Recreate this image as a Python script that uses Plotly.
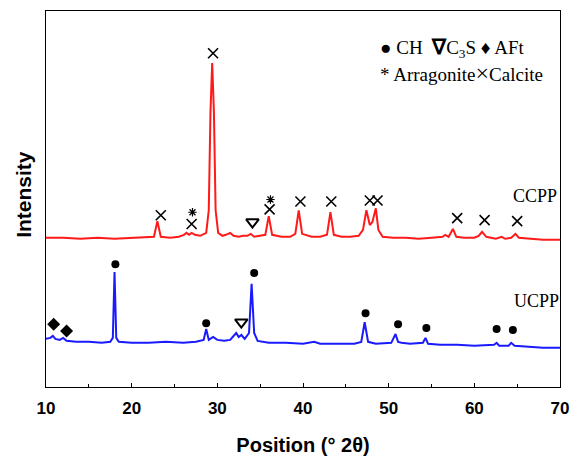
import plotly.graph_objects as go

# ---- CCPP (red) pattern: 2-theta (deg) and intensity (a.u.) ----
ccpp_x = [10.0, 12.0, 14.0, 16.0, 18.0, 20.0, 21.5, 22.6, 23.0, 23.4, 24.5, 25.5, 26.1, 26.4, 26.7,
          27.0, 27.4, 28.0, 28.7, 29.0, 29.2, 29.4, 29.6, 29.8, 30.1, 30.6, 31.0, 31.5, 31.9, 32.5,
          33.0, 33.5, 33.9, 34.3, 35.6, 36.0, 36.4, 37.5, 38.5, 39.1, 39.5, 39.9, 41.0, 42.0, 42.8,
          43.2, 43.6, 44.5, 45.5, 46.5, 47.0, 47.4, 47.8, 48.1, 48.5, 48.8, 49.3, 50.5, 52.0, 53.5,
          55.0, 56.3, 56.6, 57.0, 57.5, 57.9, 58.8, 60.0, 60.5, 60.9, 61.4, 62.5, 63.2, 63.6, 64.3,
          64.8, 65.2, 66.5, 68.0, 70.0]
ccpp_y = [152, 152, 151, 152, 151, 152, 152, 153, 169, 153, 152, 153, 155, 157, 155,
          157, 155, 154, 157, 180, 280, 330, 280, 180, 157, 154, 155, 157, 154, 153,
          154, 154, 156, 153, 155, 174, 155, 153, 153, 156, 180, 156, 153, 153, 155,
          178, 155, 153, 153, 154, 160, 180, 165, 168, 182, 160, 153, 152, 152, 151,
          152, 153, 155, 153, 161, 153, 152, 152, 154, 158, 153, 151, 153, 151, 152,
          156, 152, 151, 150, 150]

# ---- UCPP (blue) pattern ----
ucpp_x = [10.0, 10.5, 10.8, 11.1, 11.6, 12.0, 12.4, 13.5, 15.0, 16.5, 17.5, 17.8, 18.0, 18.2, 18.5,
          20.0, 22.0, 24.0, 26.0, 27.5, 28.4, 28.7, 29.0, 29.5, 30.0, 30.8, 31.5, 32.2, 32.5, 32.8,
          33.2, 33.7, 34.0, 34.3, 34.7, 36.0, 38.0, 40.0, 41.3, 42.0, 44.0, 46.0, 46.8, 47.2, 47.6,
          48.5, 50.3, 50.8, 51.1, 51.5, 52.5, 54.0, 54.3, 54.6, 56.0, 58.0, 60.0, 62.3, 62.6, 62.9,
          64.0, 64.3, 64.7, 66.0, 68.0, 70.0]
ucpp_y = [49, 50, 52, 49, 48, 50, 47, 46, 46, 45, 46, 50, 117, 50, 46,
          45, 45, 46, 45, 46, 48, 59, 48, 51, 48, 47, 48, 55, 51, 53,
          49, 55, 105, 55, 47, 45, 45, 44, 46, 44, 44, 44, 46, 66, 46,
          44, 45, 54, 46, 45, 44, 45, 50, 44, 43, 43, 42, 43, 45, 42,
          42, 45, 42, 41, 40, 40]

# ---- phase markers ----
calcite_x = [23.4, 27.0, 29.5, 36.1, 39.7, 43.3, 47.8, 48.7, 58.0, 61.2, 65.0]
calcite_y = [175, 166, 340, 181, 189, 189, 190, 190, 172, 170, 169]
arag_x = [27.1, 36.2]
arag_y = [178, 191]
c3s_x = [34.1, 32.8]
c3s_y = [168, 66]
aft_x = [10.9, 12.4]
aft_y = [64, 57]
ch_x = [18.1, 28.7, 34.3, 47.3, 51.1, 54.4, 62.6, 64.5]
ch_y = [125, 65, 116, 75, 64, 60, 59, 58]

x_ticks = [10, 20, 30, 40, 50, 60, 70]

fig = go.Figure()
fig.add_trace(go.Scatter(x=ccpp_x, y=ccpp_y, mode="lines", line=dict(color="#ff1a1a", width=2),
                         showlegend=False, name="CCPP"))
fig.add_trace(go.Scatter(x=ucpp_x, y=ucpp_y, mode="lines", line=dict(color="#1a1aff", width=2),
                         showlegend=False, name="UCPP"))

fig.add_trace(go.Scatter(x=calcite_x, y=calcite_y, mode="markers", showlegend=False,
                         marker=dict(symbol="x-thin-open", size=10, color="black",
                                     line=dict(color="black", width=1.6))))
fig.add_trace(go.Scatter(x=arag_x, y=arag_y, mode="markers", showlegend=False,
                         marker=dict(symbol="asterisk-open", size=7, color="black",
                                     line=dict(color="black", width=1.2))))
fig.add_trace(go.Scatter(x=c3s_x, y=c3s_y, mode="markers", showlegend=False,
                         marker=dict(symbol="triangle-down-open", size=11, color="black",
                                     line=dict(color="black", width=2))))
fig.add_trace(go.Scatter(x=aft_x, y=aft_y, mode="markers", showlegend=False,
                         marker=dict(symbol="diamond", size=10, color="black", line=dict(width=0))))
fig.add_trace(go.Scatter(x=ch_x, y=ch_y, mode="markers", showlegend=False,
                         marker=dict(symbol="circle", size=8, color="black", line=dict(width=0))))

serif = "Liberation Serif, Times New Roman, serif"
sans = "Liberation Sans, Arial, sans-serif"

annotations = [
    dict(x=67.1, y=195, xref="x", yref="y", text="CCPP", showarrow=False,
         font=dict(family=serif, size=18, color="black")),
    dict(x=67.2, y=88, xref="x", yref="y", text="UCPP", showarrow=False,
         font=dict(family=serif, size=18, color="black")),
    dict(x=0.646, y=0.901, xref="paper", yref="paper", xanchor="left", yanchor="middle",
         text="● CH  <span style='font-size:21px'><b>∇</b></span>C<sub>3</sub>S ♦ AFt",
         showarrow=False, font=dict(family=serif, size=19, color="black")),
    dict(x=0.646, y=0.834, xref="paper", yref="paper", xanchor="left", yanchor="middle",
         text="* Arragonite<span style='font-size:24px'>×</span>Calcite", showarrow=False,
         font=dict(family=serif, size=19, color="black")),
    dict(x=-0.044, y=0.512, xref="paper", yref="paper", xanchor="center", yanchor="middle",
         text="Intensity", textangle=-90,
         showarrow=False, font=dict(family=sans, size=21, color="black", weight="bold")),
]
fig.update_layout(annotations=annotations)

fig.update_xaxes(range=[10, 70], tickvals=x_ticks, ticks="inside", ticklen=4, tickwidth=1.3,
                 tickcolor="black", showline=True, linecolor="black", linewidth=1.3, mirror=True,
                 showgrid=False, zeroline=False, ticklabelstandoff=5, ticklabeloverflow="allow",
                 minor=dict(dtick=5, ticks="inside", ticklen=2.5, tickwidth=1.3, tickcolor="black"),
                 tickfont=dict(family=sans, size=17, color="black", weight="bold"),
                 title=dict(text="Position (° 2θ)", standoff=21,
                            font=dict(family=sans, size=20, color="black", weight="bold")))
fig.update_yaxes(range=[0, 383], showticklabels=False, ticks="", showline=True, linecolor="black",
                 linewidth=1.3, mirror=True, showgrid=False, zeroline=False)

fig.update_layout(width=579, height=463, margin=dict(l=46, r=13, t=10, b=70),
                  paper_bgcolor="white", plot_bgcolor="white")

fig.write_html("out.html",
               post_script="document.body.style.margin='0';document.body.style.overflow='hidden';")
